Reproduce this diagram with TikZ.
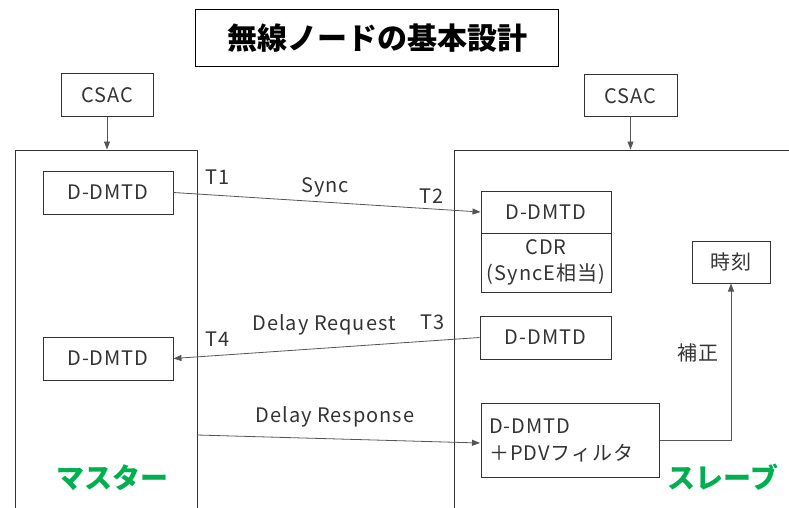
\documentclass[tikz,border=0pt]{standalone}
\usepackage{fontspec}
\setmainfont[LetterSpace=5]{Noto Sans CJK JP}
\newfontfamily\headfont{Noto Sans CJK JP}
\usetikzlibrary{arrows.meta}
\definecolor{ink}{HTML}{333333}
\definecolor{wire}{HTML}{555555}
\definecolor{lbl}{HTML}{00B050}
\tikzset{
  unit/.style={draw=ink, line width=1pt, text=ink, inner sep=0pt, font=\fontsize{20}{24}\selectfont, align=center},
  frame/.style={draw=ink, line width=1pt, inner sep=0pt},
  msg/.style={draw=wire, line width=0.8pt, -{Triangle[length=8pt,width=6pt]}},
  tag/.style={text=ink, inner sep=0pt, font=\fontsize{20}{24}\selectfont},
  role/.style={text=lbl, inner sep=0pt, font=\headfont\fontsize{28}{32}\selectfont\bfseries},
}
\begin{document}
\begin{tikzpicture}[x=1pt, y=-1pt]
\useasboundingbox (0,0) rectangle (789,508);
\clip (0,0) rectangle (789,508);

% title
\node[draw=black, line width=1.2pt, minimum width=363pt, minimum height=57pt, inner sep=0pt,
      font=\headfont\fontsize{30}{34}\selectfont\bfseries] (title) at (377,38) {無線ノードの基本設計};

% clock sources
\node[unit, minimum width=92pt, minimum height=43pt] (csacM) at (107,95.5) {CSAC};
\node[unit, minimum width=93pt, minimum height=42pt] (csacS) at (630.5,96) {CSAC};

% master and slave enclosures (open towards the bottom)
\node[frame, minimum width=182pt, minimum height=400pt] (master) at (106,350) {};
\node[frame, minimum width=380pt, minimum height=400pt] (slave) at (644,350) {};

% master blocks
\node[unit, minimum width=130pt, minimum height=43pt] (mT1) at (108,192.5) {D-DMTD};
\node[unit, minimum width=130pt, minimum height=43pt] (mT4) at (108,358.5) {D-DMTD};

% slave blocks
\node[unit, minimum width=130pt, minimum height=42pt] (sT2) at (546,212) {D-DMTD};
\node[unit, minimum width=130pt, minimum height=59pt, font=\fontsize{20}{26}\selectfont] (cdr) at (546,262.5) {CDR\\(SyncE相当)};
\node[unit, minimum width=131pt, minimum height=43pt] (sT3) at (545.5,337.5) {D-DMTD};
\node[unit, minimum width=178pt, minimum height=74pt, align=left, text width=162pt, font=\fontsize{20}{27}\selectfont] (pdv) at (570,440) {D-DMTD\\＋PDVフィルタ};
\node[unit, minimum width=78pt, minimum height=42pt] (clock) at (731,262) {時刻};

% clock feeds
\draw[msg] (csacM) -- (csacM |- master.north);
\draw[msg] (csacS) -- (csacS |- slave.north);

% timing messages
\coordinate (respOut) at (197,435);
\coordinate (respIn) at (480,443);
\draw[msg] (mT1.east) -- (sT2.west);
\draw[msg] (sT3.west) -- (mT4.east);
\draw[msg] (respOut) -- (respIn);
\draw[msg] (pdv.east) -| (clock.south);

% labels
\node[tag] (t1) at (218,177) {T1};
\node[tag] (sync) at (325,187) {Sync};
\node[tag] (t2) at (432,196) {T2};
\node[tag] (t4) at (218,339) {T4};
\node[tag] (dreq) at (324,325) {Delay Request};
\node[tag] (t3) at (433,322) {T3};
\node[tag] (dres) at (335,417) {Delay Response};
\node[tag] (corr) at (698,353) {補正};
\node[role] (mlabel) at (112,478) {マスター};
\node[role] (slabel) at (723,477) {スレーブ};
\end{tikzpicture}
\end{document}
